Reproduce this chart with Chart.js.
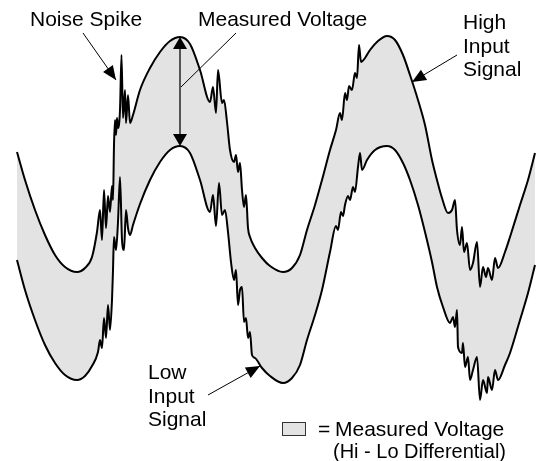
<!DOCTYPE html>
<html>
<head>
<meta charset="utf-8">
<title>Measured Voltage - Hi / Lo Differential</title>
<script src="https://cdn.jsdelivr.net/npm/chart.js@4.4.0/dist/chart.umd.min.js"></script>
<style>
    html, body { margin: 0; padding: 0; background: #fff; }
    #wrap { width: 541px; height: 461px; }
</style>
</head>
<body>
<div id="wrap"><canvas id="signalChart" width="541" height="461"></canvas></div>
<script>
// time axis (samples) and signal level (level axis runs top-down)
const highTime = [17, 25, 35, 45, 55, 65, 77, 85, 92, 97, 100, 102, 104, 106, 108, 110, 112, 113, 114, 115, 116, 117, 118, 120, 121.5, 123, 125, 126, 128, 130, 133, 140, 150, 160, 170, 180,
    190, 200, 210, 213, 216, 218, 222, 224, 227, 230, 234, 236, 238, 240, 242, 244, 246, 248, 250, 255, 262, 270, 283,
    292, 300, 307, 315, 322, 330, 336, 340, 342, 345, 347, 349, 352, 355, 357, 359, 361, 365, 370, 378, 387,
    395, 403, 410, 418, 425, 432, 437, 442, 448, 452, 455, 457, 460, 462, 464, 467, 470, 473, 477, 480, 483, 486, 488, 492, 495, 498, 505, 510, 520, 528, 535];
const highLevel = [152, 180, 210, 235, 255, 267, 272, 268, 257, 232, 210, 240, 190, 228, 196, 212, 186, 200, 145, 120, 135, 118, 128, 110, 55, 118, 90, 123, 95, 123, 115, 90, 68, 52, 41, 37,
    44, 70, 102, 87, 113, 70, 103, 100, 122, 150, 162, 155, 172, 163, 190, 207, 195, 228, 237, 248, 258, 266, 272,
    268, 255, 230, 205, 180, 150, 130, 113, 120, 93, 100, 86, 90, 73, 78, 45, 62, 58, 50, 41, 36,
    40, 55, 75, 100, 125, 160, 180, 198, 213, 210, 200, 230, 245, 227, 252, 243, 270, 263, 242, 287, 267, 277, 268, 280, 258, 268, 252, 237, 205, 180, 153];

const lowTime = [17, 25, 35, 45, 55, 65, 77, 85, 92, 98, 100, 102, 104, 106, 108, 110, 112, 113, 114, 116, 118, 120, 122, 124, 126, 128, 130, 133, 140, 150, 160, 170, 180,
    190, 200, 210, 213, 216, 219, 222, 225, 228, 231, 234, 236, 238, 240, 242, 244, 246, 248, 250, 252, 255, 262, 270, 283,
    292, 300, 307, 315, 322, 330, 336, 338, 341, 343, 345, 348, 350, 353, 355, 358, 360, 362, 367, 375, 387,
    395, 403, 410, 418, 425, 432, 437, 443, 450, 453, 455, 457, 458, 462, 463, 465, 468, 470, 473, 477, 480, 483, 487, 488, 492, 495, 498, 505, 510, 520, 528, 535];
const lowLevel = [260, 290, 320, 345, 363, 375, 380, 376, 366, 352, 340, 348, 318, 338, 305, 330, 300, 270, 237, 250, 222, 177, 240, 250, 210, 228, 235, 225, 204, 180, 162, 150, 146,
    153, 180, 212, 195, 226, 183, 215, 210, 232, 262, 280, 270, 305, 290, 287, 322, 318, 338, 332, 355, 358, 368, 376, 383,
    378, 365, 340, 315, 290, 252, 226, 230, 212, 216, 205, 196, 200, 187, 192, 167, 153, 170, 160, 150, 146,
    150, 163, 180, 205, 232, 262, 287, 307, 323, 317, 327, 310, 347, 353, 343, 367, 357, 380, 370, 357, 400, 380, 393, 377, 390, 370, 380, 365, 353, 320, 293, 265];

const bandLabel = "Measured Voltage";

/**
 * Callouts, arrows and the little key (drawn through the chart scales)
 */
const callouts = {
    id: "callouts",
    afterDatasetsDraw(chart) {
        const ctx = chart.ctx;
        const sx = chart.scales.x, sy = chart.scales.y;
        const px = v => sx.getPixelForValue(v);
        const py = v => sy.getPixelForValue(v);

        function head(x1, y1, x2, y2, len, half) {
            const a = Math.atan2(y2 - y1, x2 - x1);
            ctx.beginPath();
            ctx.moveTo(x2, y2);
            ctx.lineTo(x2 - len * Math.cos(a) + half * Math.sin(a), y2 - len * Math.sin(a) - half * Math.cos(a));
            ctx.lineTo(x2 - len * Math.cos(a) - half * Math.sin(a), y2 - len * Math.sin(a) + half * Math.cos(a));
            ctx.closePath();
            ctx.fill();
        }

        function leader(t1, v1, t2, v2, withHead) {
            const x1 = px(t1), y1 = py(v1), x2 = px(t2), y2 = py(v2);
            ctx.beginPath();
            ctx.moveTo(x1, y1);
            ctx.lineTo(x2, y2);
            ctx.stroke();
            if (withHead) head(x1, y1, x2, y2, 14, 6);
        }

        ctx.save();
        ctx.fillStyle = "#000";
        ctx.strokeStyle = "#000";
        ctx.lineWidth = 1;

        // text
        ctx.font = "21px 'Liberation Sans', Arial, sans-serif";
        ctx.textBaseline = "alphabetic";
        ctx.textAlign = "left";
        ctx.fillText("Noise Spike", px(30), py(26));
        ctx.fillText(bandLabel, px(198), py(26));
        ["High", "Input", "Signal"].forEach((s, i) => ctx.fillText(s, px(463), py(29 + i * 23.5)));
        ["Low", "Input", "Signal"].forEach((s, i) => ctx.fillText(s, px(148), py(379 + i * 23.5)));

        // leaders
        leader(83, 33, 116, 80, true);
        leader(236, 33, 181, 87, false);
        leader(457, 55, 412, 82, true);
        leader(208, 395, 260, 366, true);

        // double arrow: hi peak to lo peak
        ctx.strokeStyle = "#555";
        ctx.lineWidth = 2;
        ctx.beginPath();
        ctx.moveTo(px(180), py(48));
        ctx.lineTo(px(180), py(134));
        ctx.stroke();
        ctx.fillStyle = "#000";
        head(px(180), py(90), px(180), py(37), 12, 7);
        head(px(180), py(90), px(180), py(146), 12, 7);

        // key
        ctx.fillStyle = "#e3e3e3";
        ctx.fillRect(px(282), py(422), 23, 13);
        ctx.strokeStyle = "#333";
        ctx.lineWidth = 1;
        ctx.strokeRect(px(282) + 0.5, py(422) + 0.5, 23, 13);
        ctx.fillStyle = "#000";
        ctx.fillText("=", px(318), py(436));
        ctx.fillText(bandLabel, px(335), py(436));
        ctx.font = "20px 'Liberation Sans', Arial, sans-serif";
        ctx.fillText("(Hi - Lo Differential)", px(333), py(458));

        ctx.restore();
    }
};

/**
 * Chart
 */
function initChart() {
    const ctx = document.getElementById("signalChart");
    if (!ctx) return;

    new Chart(ctx, {
        type: "line",
        data: {
            datasets: [
                {
                    label: "High Input Signal",
                    data: highTime.map((t, i) => ({ x: t, y: highLevel[i] })),
                    borderColor: "#000",
                    borderWidth: 2,
                    backgroundColor: "#e3e3e3",
                    fill: "+1",
                    pointRadius: 0,
                    cubicInterpolationMode: "monotone"
                },
                {
                    label: "Low Input Signal",
                    data: lowTime.map((t, i) => ({ x: t, y: lowLevel[i] })),
                    borderColor: "#000",
                    borderWidth: 2,
                    fill: false,
                    pointRadius: 0,
                    cubicInterpolationMode: "monotone"
                }
            ]
        },
        options: {
            responsive: false,
            animation: false,
            layout: { padding: 0 },
            scales: {
                x: { type: "linear", min: 0, max: 541, display: false },
                y: { type: "linear", min: 0, max: 461, reverse: true, display: false }
            },
            plugins: {
                legend: { display: false },
                tooltip: { enabled: false },
                filler: { drawTime: "beforeDatasetsDraw" }
            }
        },
        plugins: [callouts]
    });
}

initChart();
</script>
</body>
</html>
